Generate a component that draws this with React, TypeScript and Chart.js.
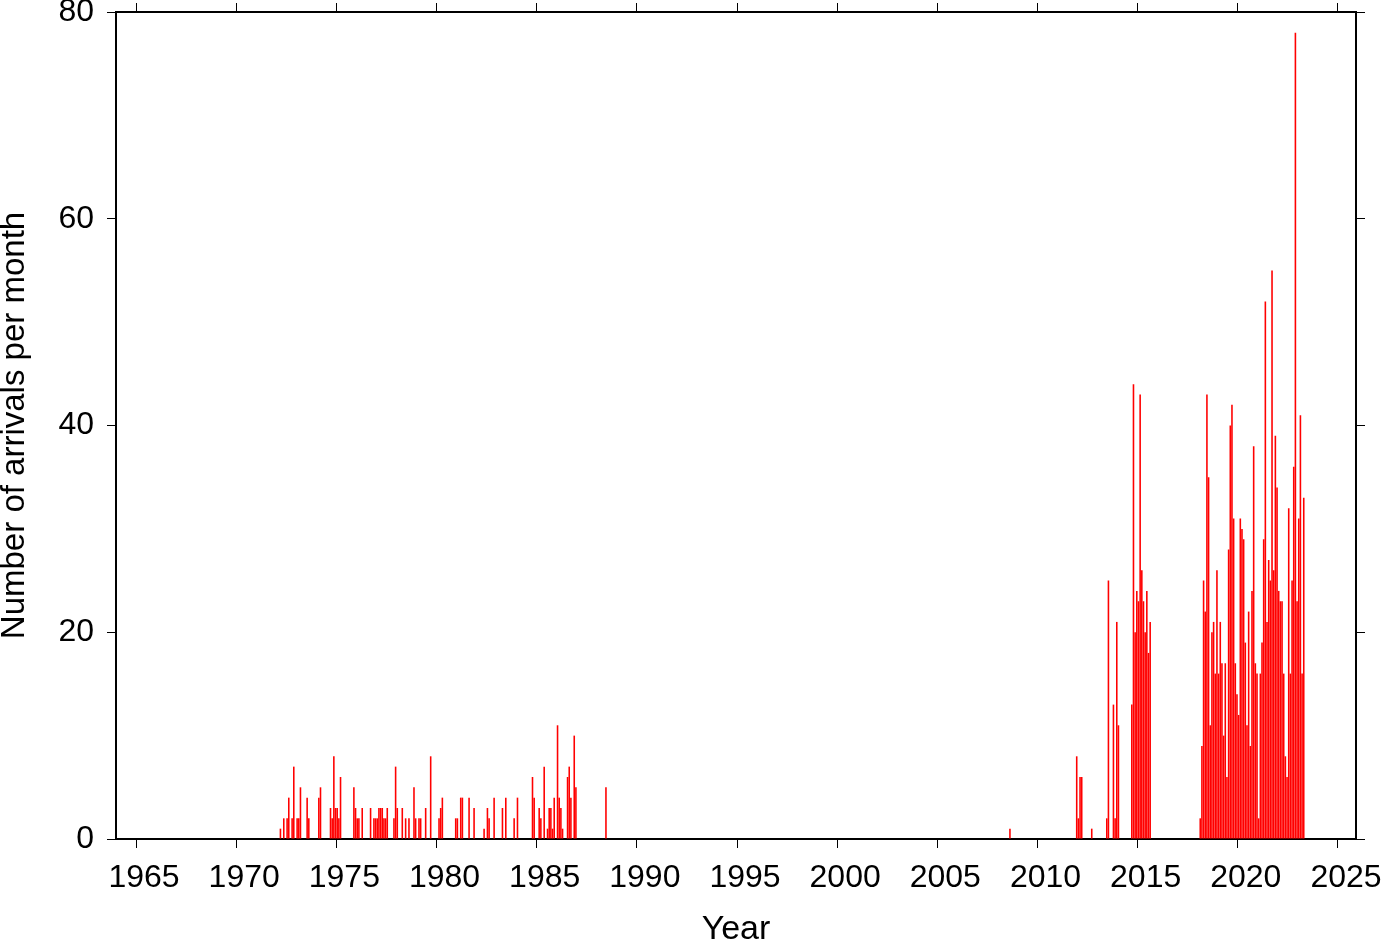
import React, { useEffect, useRef } from "react";
import { Chart, registerables } from "chart.js";

Chart.register(...registerables);

// ---- Data: number of arrivals per month ----
const earlyMonths = [
  "1972-03", "1972-05", "1972-07", "1972-08", "1972-10", "1972-11", "1973-01", "1973-02", "1973-03", "1973-07",
  "1973-08", "1974-02", "1974-03", "1974-09", "1974-10", "1974-11", "1974-12", "1975-01", "1975-02", "1975-03",
  "1975-11", "1975-12", "1976-01", "1976-02", "1976-04", "1976-09", "1976-11", "1976-12", "1977-01", "1977-02",
  "1977-03", "1977-04", "1977-05", "1977-06", "1977-07", "1977-11", "1977-12", "1978-01", "1978-04", "1978-06",
  "1978-08", "1978-11", "1978-12", "1979-02", "1979-03", "1979-06", "1979-09", "1980-02", "1980-03", "1980-04",
  "1980-12", "1981-01", "1981-03", "1981-04", "1981-08", "1981-11", "1982-05", "1982-07", "1982-08", "1982-11",
  "1983-04", "1983-06", "1983-11", "1984-01", "1984-10", "1984-11", "1985-02", "1985-03", "1985-05", "1985-07",
  "1985-08", "1985-09", "1985-10", "1985-11", "1986-01", "1986-02", "1986-03", "1986-04", "1986-07", "1986-08",
  "1986-09", "1986-11", "1986-12", "1988-06",
];
const earlyCounts = [
  1, 2, 2, 4, 2, 7, 2, 2, 5, 4,
  2, 4, 5, 3, 2, 8, 3, 3, 2, 6,
  5, 3, 2, 2, 3, 3, 2, 2, 2, 3,
  3, 3, 2, 2, 3, 2, 7, 3, 3, 2,
  2, 5, 2, 2, 2, 3, 8, 2, 3, 4,
  2, 2, 4, 4, 4, 3, 1, 3, 2, 4,
  3, 4, 2, 4, 6, 4, 3, 2, 7, 1,
  3, 3, 1, 4, 11, 4, 3, 1, 6, 7,
  4, 10, 5, 5,
];

const middleMonths = [
  "2008-08", "2011-12", "2012-01", "2012-02", "2012-03", "2012-09", "2013-06", "2013-07", "2013-10", "2013-11",
  "2013-12", "2014-01", "2014-09", "2014-10", "2014-11", "2014-12", "2015-01", "2015-02", "2015-03", "2015-04",
  "2015-05", "2015-06", "2015-07", "2015-08",
];
const middleCounts = [
  1, 8, 2, 6, 6, 1, 2, 25, 13, 2,
  21, 11, 13, 44, 20, 24, 23, 43, 26, 23,
  20, 24, 18, 21,
];

const recentMonths = [
  "2018-02", "2018-03", "2018-04", "2018-05", "2018-06", "2018-07", "2018-08", "2018-09", "2018-10", "2018-11", "2018-12",
  "2019-01", "2019-02", "2019-03", "2019-04", "2019-05", "2019-06", "2019-07", "2019-08", "2019-09", "2019-10", "2019-11", "2019-12",
  "2020-01", "2020-02", "2020-03", "2020-04", "2020-05", "2020-06", "2020-07", "2020-08", "2020-09", "2020-10", "2020-11", "2020-12",
  "2021-01", "2021-02", "2021-03", "2021-04", "2021-05", "2021-06", "2021-07", "2021-08", "2021-09", "2021-10", "2021-11", "2021-12",
  "2022-01", "2022-02", "2022-03", "2022-04", "2022-05", "2022-06", "2022-07", "2022-08", "2022-09", "2022-10", "2022-11", "2022-12",
  "2023-01", "2023-02", "2023-03", "2023-04",
];
const recentCounts = [
  2, 9, 25, 22, 43, 35, 11, 20, 21, 16, 26,
  16, 21, 17, 10, 17, 6, 28, 40, 42, 31, 17, 14,
  12, 31, 30, 29, 19, 11, 22, 9, 24, 38, 17, 16,
  2, 16, 19, 29, 52, 21, 27, 25, 55, 26, 39, 34,
  24, 23, 23, 16, 8, 6, 32, 16, 25, 36, 78, 23,
  31, 41, 16, 33,
];

const yearTicks = [1965, 1970, 1975, 1980, 1985, 1990, 1995, 2000, 2005, 2010, 2015, 2020, 2025];
const countTicks = [0, 20, 40, 60, 80];

const X_MIN = 1964;
const X_MAX = 2025.9;

const monthToYear = (m: string) => {
  const [y, mo] = m.split("-").map(Number);
  return y + (mo - 0.5) / 12;
};

const FONT_FAMILY = "'Liberation Sans', Arial, Helvetica, sans-serif";

export default function App() {
  const canvasRef = useRef<HTMLCanvasElement | null>(null);

  useEffect(() => {
    document.body.style.margin = "0";
    const canvas = canvasRef.current;
    if (!canvas) return;

    const months = [...earlyMonths, ...middleMonths, ...recentMonths];
    const counts = [...earlyCounts, ...middleCounts, ...recentCounts];
    const points = months.map((m, i) => ({ x: monthToYear(m), y: counts[i] }));

    const tickFont = { family: FONT_FAMILY, size: 32 };
    const titleFont = { family: FONT_FAMILY, size: 33 };

    const gridCfg = {
      display: true,
      drawOnChartArea: false,
      drawTicks: true,
      offset: false,
      tickLength: 9,
      color: "#000",
      lineWidth: 1,
    };
    const borderCfg = { display: true, color: "#000", width: 2 };
    const setYearTicks = (axis: any) => {
      axis.ticks = yearTicks.map((v) => ({ value: v }));
    };
    const setCountTicks = (axis: any) => {
      axis.ticks = countTicks.map((v) => ({ value: v }));
    };
    const fitH = (h: number) => (s: any) => {
      s.height = h;
      s.paddingLeft = 0;
      s.paddingRight = 0;
      s.paddingTop = 0;
      s.paddingBottom = 0;
    };
    const fitW = (w: number) => (s: any) => {
      s.width = w;
      s.paddingLeft = 0;
      s.paddingRight = 0;
      s.paddingTop = 0;
      s.paddingBottom = 0;
    };

    const chart = new Chart(canvas, {
      type: "bar",
      data: {
        datasets: [
          {
            data: points as any,
            backgroundColor: "#ff0000",
            borderWidth: 0,
            categoryPercentage: 1,
            barPercentage: 0.95,
            xAxisID: "x",
            yAxisID: "y",
          },
        ],
      },
      options: {
        animation: false,
        responsive: true,
        maintainAspectRatio: false,
        layout: { padding: 0 },
        plugins: { legend: { display: false }, tooltip: { enabled: false } },
        scales: {
          x: {
            type: "linear",
            position: "bottom",
            offset: false,
            min: X_MIN,
            max: X_MAX,
            afterBuildTicks: setYearTicks,
            afterFit: fitH(103),
            grid: gridCfg,
            border: borderCfg,
            ticks: {
              color: "#000",
              font: tickFont,
              padding: 11,
              labelOffset: 8,
              maxRotation: 0,
              autoSkip: false,
              callback: (v: any) => String(v),
            },
            title: {
              display: true,
              text: "Year",
              color: "#000",
              font: { ...titleFont, size: 34, lineHeight: 0.7 },
              padding: 0,
            },
          } as any,
          x2: {
            type: "linear",
            position: "top",
            offset: false,
            min: X_MIN,
            max: X_MAX,
            afterBuildTicks: setYearTicks,
            afterFit: fitH(12),
            grid: gridCfg,
            border: borderCfg,
            ticks: { display: false },
          } as any,
          y: {
            type: "linear",
            position: "left",
            offset: false,
            min: 0,
            max: 80,
            afterBuildTicks: setCountTicks,
            afterFit: fitW(116),
            grid: gridCfg,
            border: borderCfg,
            ticks: {
              color: "#000",
              font: tickFont,
              padding: 13,
              autoSkip: false,
              callback: (v: any) => String(v),
            },
            title: {
              display: true,
              text: "Number of arrivals per month",
              color: "#000",
              font: { ...titleFont, lineHeight: 0.88 },
              padding: 0,
            },
          } as any,
          y2: {
            type: "linear",
            position: "right",
            offset: false,
            min: 0,
            max: 80,
            afterBuildTicks: setCountTicks,
            afterFit: fitW(26),
            grid: gridCfg,
            border: borderCfg,
            ticks: { display: false },
          } as any,
        },
      },
    });

    return () => {
      chart.destroy();
    };
  }, []);

  return (
    <div style={{ position: "relative", width: 1382, height: 942 }}>
      <canvas ref={canvasRef} />
    </div>
  );
}
